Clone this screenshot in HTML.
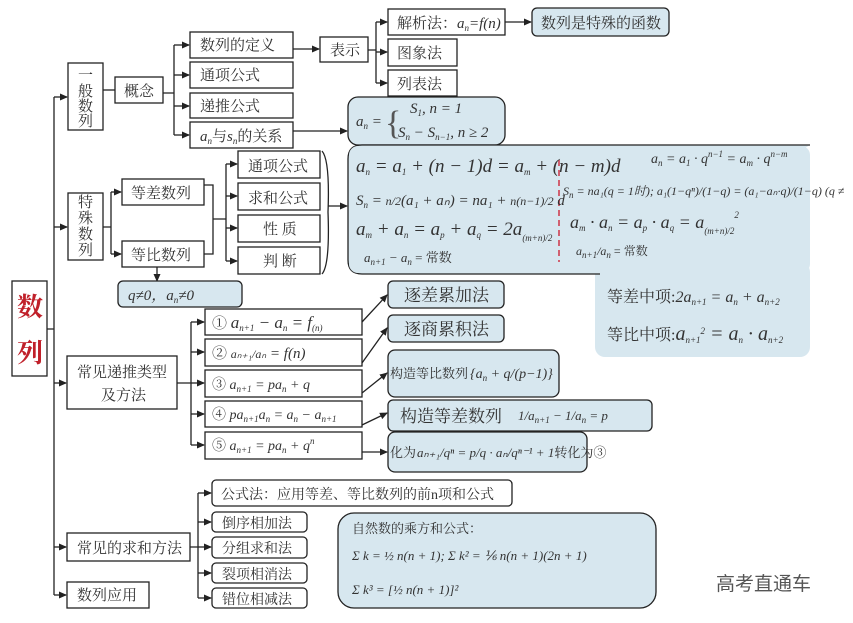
<!DOCTYPE html>
<html><head><meta charset="utf-8"><style>
html,body{margin:0;padding:0;background:#fff;}
svg{display:block}
text{font-family:"Liberation Serif","Noto Serif CJK SC",serif;fill:#333;}
.c{font-size:15px;}
.m{font-style:italic;font-size:15px;}
.s{font-size:9px;font-style:italic;}
</style></head><body>
<svg width="853" height="623" viewBox="0 0 853 623" xmlns="http://www.w3.org/2000/svg">
<defs><marker id="a" markerWidth="8" markerHeight="8" refX="7" refY="4" orient="auto" markerUnits="userSpaceOnUse"><path d="M0,0.5 L8,4 L0,7.5z" fill="#222"/></marker></defs>
<g fill="none" stroke="#222" stroke-width="1.3">
<path d="M47,329 H54 M54,97 V595"/>
<path d="M54,97 H67" marker-end="url(#a)"/><path d="M54,227 H67" marker-end="url(#a)"/>
<path d="M54,383 H66" marker-end="url(#a)"/><path d="M54,547 H66" marker-end="url(#a)"/><path d="M54,595 H66" marker-end="url(#a)"/>
<path d="M103,90 H115"/>
<path d="M163,93 H174 M174,45 V135"/>
<path d="M174,45 H189" marker-end="url(#a)"/><path d="M174,75 H189" marker-end="url(#a)"/><path d="M174,106 H189" marker-end="url(#a)"/><path d="M174,135 H189" marker-end="url(#a)"/>
<path d="M293,49 H319" marker-end="url(#a)"/>
<path d="M368,50 H376 M376,22 V83"/>
<path d="M376,22 H387" marker-end="url(#a)"/><path d="M376,52 H387" marker-end="url(#a)"/><path d="M376,83 H387" marker-end="url(#a)"/>
<path d="M505,22 H531" marker-end="url(#a)"/>
<path d="M293,131 H347" marker-end="url(#a)"/>
<path d="M103,227 H111 M111,192 V254"/>
<path d="M111,192 H121" marker-end="url(#a)"/><path d="M111,254 H121" marker-end="url(#a)"/>
<path d="M204,185 H213 V254 H204 M213,219 H226 M226,164 V261"/>
<path d="M226,164 H237" marker-end="url(#a)"/><path d="M226,196 H237" marker-end="url(#a)"/><path d="M226,228 H237" marker-end="url(#a)"/><path d="M226,261 H237" marker-end="url(#a)"/>
<path d="M322,151 Q330,160 328,212 Q330,265 322,274"/>
<path d="M328,206 H347" marker-end="url(#a)"/>
<path d="M157,267 V281" marker-end="url(#a)"/>
<path d="M177,383 H191 M191,322 V445"/>
<path d="M191,322 H204" marker-end="url(#a)"/><path d="M191,352 H204" marker-end="url(#a)"/><path d="M191,383 H204" marker-end="url(#a)"/><path d="M191,414 H204" marker-end="url(#a)"/><path d="M191,445 H204" marker-end="url(#a)"/>
<path d="M362,322 L387,295" marker-end="url(#a)"/><path d="M362,363 L387,328" marker-end="url(#a)"/><path d="M362,393 L387,373" marker-end="url(#a)"/><path d="M362,425 L387,413" marker-end="url(#a)"/><path d="M362,452 H387" marker-end="url(#a)"/>
<path d="M190,547 H198 M198,493 V598"/>
<path d="M198,493 H211" marker-end="url(#a)"/><path d="M198,522 H211" marker-end="url(#a)"/><path d="M198,547 H211" marker-end="url(#a)"/><path d="M198,573 H211" marker-end="url(#a)"/><path d="M198,598 H211" marker-end="url(#a)"/>
</g>
<g fill="#fff" stroke="#222" stroke-width="1.3">
<rect x="12" y="281" width="35" height="95"/>
<rect x="68" y="63" width="35" height="67"/><rect x="115" y="77" width="48" height="26"/>
<rect x="190" y="32" width="103" height="26"/><rect x="190" y="62" width="103" height="26"/><rect x="190" y="93" width="103" height="25"/><rect x="190" y="122" width="103" height="26"/>
<rect x="320" y="37" width="48" height="25"/>
<rect x="388" y="9" width="117" height="26"/><rect x="388" y="39" width="69" height="27"/><rect x="388" y="70" width="69" height="26"/>
<rect x="68" y="193" width="35" height="67"/>
<rect x="122" y="179" width="82" height="26"/><rect x="122" y="241" width="82" height="26"/>
<rect x="238" y="151" width="82" height="27"/><rect x="238" y="183" width="82" height="27"/><rect x="238" y="215" width="82" height="27"/><rect x="238" y="247" width="82" height="27"/>
<rect x="67" y="356" width="110" height="53"/>
<rect x="205" y="309" width="157" height="26"/><rect x="205" y="339" width="157" height="27"/><rect x="205" y="370" width="157" height="27"/><rect x="205" y="401" width="157" height="26"/><rect x="205" y="432" width="157" height="27"/>
<rect x="67" y="533" width="123" height="28"/><rect x="67" y="582" width="82" height="26"/>
</g>
<g fill="#d7e7ef" stroke="#222" stroke-width="1.3">
<rect x="532" y="8" width="137" height="28" rx="5"/>
<rect x="348" y="97" width="157" height="48" rx="10"/>
<rect x="595" y="262" width="215" height="95" rx="10" stroke="none"/>
<path d="M810,145 H362 Q348,145 348,159 V260 Q348,274 362,274 H600" />
<rect x="118" y="281" width="124" height="26" rx="5"/>
<rect x="388" y="281" width="116" height="27" rx="5"/><rect x="388" y="315" width="116" height="27" rx="5"/>
<rect x="388" y="350" width="171" height="47" rx="7"/><rect x="388" y="400" width="264" height="31" rx="5"/>
<rect x="388" y="432" width="199" height="40" rx="7"/>
<rect x="212" y="480" width="300" height="26" rx="4" fill="#fff"/>
<rect x="212" y="512" width="95" height="20" rx="4" fill="#fff"/><rect x="212" y="537" width="95" height="21" rx="4" fill="#fff"/><rect x="212" y="563" width="95" height="20" rx="4" fill="#fff"/><rect x="212" y="588" width="95" height="20" rx="4" fill="#fff"/>
<rect x="338" y="513" width="318" height="95" rx="16"/>
</g>
<rect x="349" y="146" width="461" height="127" rx="9" fill="#d7e7ef"/>
<line x1="559" y1="160" x2="559" y2="262" stroke="#d06070" stroke-width="2" stroke-dasharray="6,4"/>
<text x="17" y="316" style="font-size:26px;font-weight:bold;fill:#c0202a">数</text>
<text x="17" y="362" style="font-size:26px;font-weight:bold;fill:#c0202a">列</text>
<g class="c">
<text x="78" y="80">一</text><text x="78" y="96">般</text><text x="78" y="111">数</text><text x="78" y="126">列</text>
<text x="124" y="96">概念</text>
<text x="200" y="50">数列的定义</text><text x="200" y="80">通项公式</text><text x="200" y="111">递推公式</text>
<text x="200" y="141"><tspan font-style="italic">a<tspan font-size="9" dy="3">n</tspan></tspan><tspan dy="-3">与</tspan><tspan font-style="italic">s<tspan font-size="9" dy="3">n</tspan></tspan><tspan dy="-3">的关系</tspan></text>
<text x="330" y="55">表示</text>
<text x="397" y="28">解析法：<tspan font-style="italic">a<tspan font-size="9" dy="3">n</tspan><tspan dy="-3">=f(n)</tspan></tspan></text>
<text x="397" y="58">图象法</text><text x="397" y="89">列表法</text>
<text x="541" y="28">数列是特殊的函数</text>
<text x="78" y="207">特</text><text x="78" y="223">殊</text><text x="78" y="239">数</text><text x="78" y="255">列</text>
<text x="131" y="198">等差数列</text><text x="131" y="260">等比数列</text>
<text x="248" y="171">通项公式</text><text x="248" y="203">求和公式</text><text x="263" y="234">性 质</text><text x="263" y="266">判 断</text>
<text x="128" y="300" class="m">q≠0，a<tspan font-size="9" dy="3">n</tspan><tspan dy="-3">≠0</tspan></text>
<text x="77" y="377">常见递推类型</text><text x="101" y="400">及方法</text>
<text x="404" y="301" style="font-size:17px">逐差累加法</text><text x="404" y="335" style="font-size:17px">逐商累积法</text>
<text x="390" y="378" style="font-size:13px">构造等比数列</text>
<text x="400" y="422" style="font-size:17px">构造等差数列</text>
<text x="390" y="457" style="font-size:13px">化为</text>
<text x="77" y="553">常见的求和方法</text><text x="77" y="600">数列应用</text>
<text x="221" y="499" style="font-size:14px">公式法：应用等差、等比数列的前n项和公式</text>
<text x="222" y="528" style="font-size:14px">倒序相加法</text><text x="222" y="553" style="font-size:14px">分组求和法</text><text x="222" y="579" style="font-size:14px">裂项相消法</text><text x="222" y="604" style="font-size:14px">错位相减法</text>
</g>
<g class="m">
<text x="356" y="126">a<tspan class="s" dy="3">n</tspan><tspan dy="-3"> =</tspan></text>
<text x="385" y="134" style="font-size:34px;font-style:normal;fill:#555">{</text>
<text x="410" y="113">S<tspan class="s" dy="3">1</tspan><tspan dy="-3">,  n = 1</tspan></text>
<text x="398" y="137">S<tspan class="s" dy="3">n</tspan><tspan dy="-3"> − S</tspan><tspan class="s" dy="3">n−1</tspan><tspan dy="-3">,  n ≥ 2</tspan></text>
<text x="356" y="172" style="font-size:19px">a<tspan class="s" dy="3">n</tspan><tspan dy="-3"> = a</tspan><tspan class="s" dy="3">1</tspan><tspan dy="-3"> + (n − 1)d = a</tspan><tspan class="s" dy="3">m</tspan><tspan dy="-3"> + (n − m)d</tspan></text>
<text x="356" y="205" style="font-size:15px">S<tspan class="s" dy="3">n</tspan><tspan dy="-3"> = </tspan><tspan style="font-size:12px">n/2</tspan><tspan>(a₁ + aₙ) = na₁ + </tspan><tspan style="font-size:12px">n(n−1)/2</tspan><tspan> d</tspan></text>
<text x="356" y="235" style="font-size:19px">a<tspan class="s" dy="3">m</tspan><tspan dy="-3"> + a</tspan><tspan class="s" dy="3">n</tspan><tspan dy="-3"> = a</tspan><tspan class="s" dy="3">p</tspan><tspan dy="-3"> + a</tspan><tspan class="s" dy="3">q</tspan><tspan dy="-3"> = 2a</tspan><tspan class="s" dy="6">(m+n)/2</tspan></text>
<text x="364" y="262" style="font-size:13px">a<tspan class="s" dy="3">n+1</tspan><tspan dy="-3"> − a</tspan><tspan class="s" dy="3">n</tspan><tspan dy="-3" font-style="normal"> = 常数</tspan></text>
<text x="651" y="163" style="font-size:14px">a<tspan class="s" dy="3">n</tspan><tspan dy="-3"> = a</tspan><tspan class="s" dy="3">1</tspan><tspan dy="-3"> · q</tspan><tspan class="s" dy="-6">n−1</tspan><tspan dy="6"> = a</tspan><tspan class="s" dy="3">m</tspan><tspan dy="-3"> · q</tspan><tspan class="s" dy="-6">n−m</tspan></text>
<text x="563" y="195" style="font-size:12px">S<tspan class="s" dy="3">n</tspan><tspan dy="-3"> = na₁(q = 1时); a₁(1−qⁿ)/(1−q) = (a₁−aₙ·q)/(1−q) (q ≠</tspan></text>
<text x="570" y="228" style="font-size:18px">a<tspan class="s" dy="3">m</tspan><tspan dy="-3"> · a</tspan><tspan class="s" dy="3">n</tspan><tspan dy="-3"> = a</tspan><tspan class="s" dy="3">p</tspan><tspan dy="-3"> · a</tspan><tspan class="s" dy="3">q</tspan><tspan dy="-3"> = a</tspan><tspan class="s" dy="6">(m+n)/2</tspan><tspan class="s" dy="-16">2</tspan></text>
<text x="576" y="255" style="font-size:12px">a<tspan class="s" dy="3">n+1</tspan><tspan dy="-3">/a</tspan><tspan class="s" dy="3">n</tspan><tspan dy="-3" font-style="normal"> = 常数</tspan></text>
<text x="607" y="302" style="font-size:16px"><tspan font-style="normal">等差中项:</tspan>2a<tspan class="s" dy="3">n+1</tspan><tspan dy="-3"> = a</tspan><tspan class="s" dy="3">n</tspan><tspan dy="-3"> + a</tspan><tspan class="s" dy="3">n+2</tspan></text>
<text x="607" y="340" style="font-size:16px"><tspan font-style="normal">等比中项:</tspan><tspan style="font-size:20px">a</tspan><tspan class="s" dy="3">n+1</tspan><tspan class="s" dy="-9">2</tspan><tspan dy="6" style="font-size:20px"> = a</tspan><tspan class="s" dy="3">n</tspan><tspan dy="-3" style="font-size:20px"> · a</tspan><tspan class="s" dy="3">n+2</tspan></text>
<text x="212" y="328" style="font-size:17px"><tspan font-style="normal" font-size="15">① </tspan>a<tspan class="s" dy="3">n+1</tspan><tspan dy="-3"> − a</tspan><tspan class="s" dy="3">n</tspan><tspan dy="-3"> = f</tspan><tspan class="s" dy="3">(n)</tspan></text>
<text x="212" y="358"><tspan font-style="normal">②  </tspan><tspan style="font-size:12px">aₙ₊₁/aₙ</tspan> = f(n)</text>
<text x="212" y="389" style="font-size:14px"><tspan font-style="normal">③ </tspan>a<tspan class="s" dy="3">n+1</tspan><tspan dy="-3"> = pa</tspan><tspan class="s" dy="3">n</tspan><tspan dy="-3"> + q</tspan></text>
<text x="212" y="419" style="font-size:14px"><tspan font-style="normal">④  </tspan>pa<tspan class="s" dy="3">n+1</tspan><tspan dy="-3">a</tspan><tspan class="s" dy="3">n</tspan><tspan dy="-3"> = a</tspan><tspan class="s" dy="3">n</tspan><tspan dy="-3"> − a</tspan><tspan class="s" dy="3">n+1</tspan></text>
<text x="212" y="450" style="font-size:14px"><tspan font-style="normal">⑤  </tspan>a<tspan class="s" dy="3">n+1</tspan><tspan dy="-3"> = pa</tspan><tspan class="s" dy="3">n</tspan><tspan dy="-3"> + q</tspan><tspan class="s" dy="-6">n</tspan></text>
<text x="470" y="378" style="font-size:14px">{a<tspan class="s" dy="3">n</tspan><tspan dy="-3"> + q/(p−1)}</tspan></text>
<text x="518" y="420" style="font-size:13px">1/a<tspan class="s" dy="3">n+1</tspan><tspan dy="-3"> − 1/a</tspan><tspan class="s" dy="3">n</tspan><tspan dy="-3"> = p</tspan></text>
<text x="417" y="457" style="font-size:13px">aₙ₊₁/qⁿ = p/q · aₙ/qⁿ⁻¹ + 1<tspan font-style="normal">转化为③</tspan></text>
<text x="352" y="533" style="font-size:13px;font-style:normal">自然数的乘方和公式：</text>
<text x="352" y="560" style="font-size:13px">Σ k = ½ n(n + 1); Σ k² = ⅙ n(n + 1)(2n + 1)</text>
<text x="352" y="594" style="font-size:13px">Σ k³ = [½ n(n + 1)]²</text>
</g>
<text x="716" y="590" style="font-family:'Liberation Sans','Noto Sans CJK SC',sans-serif;font-size:19px;fill:#555">高考直通车</text>
</svg>
</body></html>
